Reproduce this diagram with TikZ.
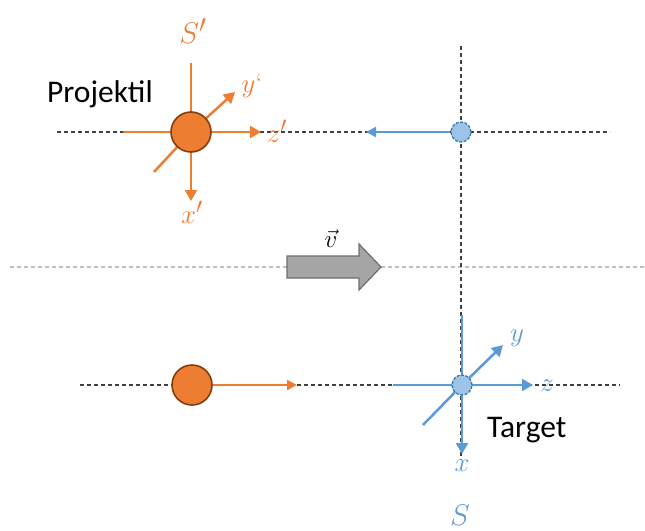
\documentclass[tikz,border=0pt]{standalone}
\usepackage{fontspec}
\newfontfamily\calibri{Carlito}
\usetikzlibrary{arrows.meta}
\definecolor{orng}{HTML}{ED7D31}
\definecolor{orngdark}{HTML}{843C0C}
\definecolor{blu}{HTML}{5B9BD5}
\definecolor{blulight}{HTML}{9DC3E6}
\definecolor{bludark}{HTML}{2E75B6}
\definecolor{darkgray}{HTML}{404040}
\definecolor{lightgray}{HTML}{BFBFBF}
\definecolor{arrowfill}{HTML}{A5A5A5}
\definecolor{arrowdraw}{HTML}{6E6E6E}
\tikzset{
  guide/.style={draw=darkgray, line width=1.1pt, dash pattern=on 4pt off 3pt},
  midguide/.style={draw=lightgray, line width=1.1pt, dash pattern=on 4pt off 3pt},
  oaxis/.style={draw=orng, line width=2.5pt},
  baxis/.style={draw=blu, line width=2.5pt},
  otip/.style={-{Triangle[length=11pt,width=12pt]}},
  ball/.style={circle, fill=orng, draw=orngdark, line width=1.6pt, minimum size=40pt, inner sep=0pt},
  target/.style={circle, fill=blulight, draw=bludark, line width=1.2pt, dash pattern=on 3pt off 1.5pt, minimum size=20pt, inner sep=0pt},
  olabel/.style={text=orng, inner sep=0pt, font=\Huge, scale=1.08},
  blabel/.style={text=blu, inner sep=0pt, font=\Huge, scale=1.08},
  bigS/.style={inner sep=0pt, font=\Huge, scale=1.2},
  word/.style={inner sep=0pt, font=\calibri\fontsize{31.5}{36}\selectfont},
}
\begin{document}
\begin{tikzpicture}[x=1pt,y=-1pt]
\useasboundingbox (0,0) rectangle (645,530);
% guide lines
\coordinate (gtL) at (57,132);
\coordinate (gtR) at (610,132);
\coordinate (gbL) at (80,385);
\coordinate (gbR) at (620,385);
\coordinate (gmL) at (10,267);
\coordinate (gmR) at (645,267);
\coordinate (gvT) at (461,46);
\coordinate (gvB) at (461,460);
\draw[midguide] (gmL) -- (gmR);
\draw[guide] (gtL) -- (gtR);
\draw[guide] (gbL) -- (gbR);
\draw[guide] (gvT) -- (gvB);
% velocity arrow
\path[draw=arrowdraw, fill=arrowfill, line width=1.2pt]
  (287,256) -- (359,256) -- (359,244) -- (381,267) -- (359,290) -- (359,278) -- (287,278) -- cycle;
\node[inner sep=0pt, font=\Huge] (vlab) at (331,239) {$\vec{v}$};
% projectile frame S'
\coordinate (pc) at (191,132);
\coordinate (pvT) at (191,63);
\coordinate (pvB) at (191,201);
\coordinate (phL) at (123,132);
\coordinate (phR) at (261,132);
\coordinate (pdA) at (154,172);
\coordinate (pdB) at (235,92);
\draw[oaxis] (pvT) -- (pc);
\draw[oaxis, otip] (pc) -- (pvB);
\draw[oaxis] (phL) -- (pc);
\draw[oaxis, otip] (pc) -- (phR);
\draw[oaxis] (pdA) -- (pc);
\draw[oaxis, otip] (pc) -- (pdB);
\node[ball] (proj) at (pc) {};
\node[olabel] (zp) at (277,131) {$z'$};
\node[olabel] (yp) at (252,86) {$y$‘};
\node[olabel] (xp) at (192,212) {$x'$};
\node[bigS, text=orng] (Sp) at (193,31) {$S'$};
\node[word, anchor=base west] (projtext) at (47,102) {Projektil};
% target image in top row
\node[target] (tgtop) at (461,132) {};
\coordinate (tgtip) at (366,132);
\draw[draw=blu, line width=2pt, -{Triangle[length=10pt,width=10pt]}] (tgtop) -- (tgtip);
% bottom projectile
\node[ball] (proj2) at (192,385) {};
\coordinate (p2tip) at (297,385);
\draw[draw=orng, line width=2pt, -{Triangle[length=10pt,width=10pt]}] (proj2) -- (p2tip);
% target frame S
\coordinate (tc) at (462,385);
\coordinate (tvT) at (462,315);
\coordinate (tvB) at (462,454);
\coordinate (thL) at (393,385);
\coordinate (thR) at (533,385);
\coordinate (tdA) at (423,425);
\coordinate (tdB) at (503,345);
\draw[baxis] (tvT) -- (tc);
\draw[baxis, otip] (tc) -- (tvB);
\draw[baxis] (thL) -- (tc);
\draw[baxis, otip] (tc) -- (thR);
\draw[baxis] (tdA) -- (tc);
\draw[baxis, otip] (tc) -- (tdB);
\node[target] (tg) at (tc) {};
\node[blabel] (zl) at (547,386) {$z$};
\node[blabel] (yl) at (517,338) {$y$};
\node[blabel] (xl) at (462,466) {$x$};
\node[bigS, text=blu, anchor=base] (Sl) at (460,525) {$S$};
\node[word, anchor=base west] (tgtext) at (487,437) {Target};
\end{tikzpicture}
\end{document}
